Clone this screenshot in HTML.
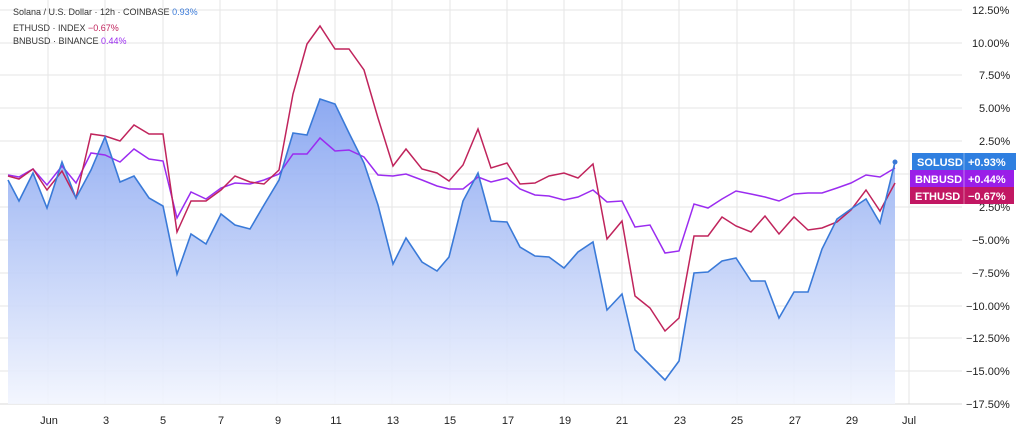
<!DOCTYPE html>
<html><head><meta charset="utf-8"><style>
body{margin:0;background:#fff;width:1024px;height:432px;overflow:hidden;font-family:"Liberation Sans",sans-serif}
</style></head><body>
<svg width="1024" height="432" xmlns="http://www.w3.org/2000/svg" font-family="Liberation Sans, sans-serif">
<defs><linearGradient id="g" gradientUnits="userSpaceOnUse" x1="0" y1="95" x2="0" y2="404">
<stop offset="0" stop-color="#7f9ff0"/><stop offset="1" stop-color="#f2f5fe"/></linearGradient></defs>
<g stroke="#e6e6e6" stroke-width="1">
<line x1="0" y1="10" x2="962" y2="10"/><line x1="0" y1="43" x2="962" y2="43"/><line x1="0" y1="75" x2="962" y2="75"/><line x1="0" y1="108" x2="962" y2="108"/><line x1="0" y1="141" x2="962" y2="141"/><line x1="0" y1="174" x2="962" y2="174"/><line x1="0" y1="207" x2="962" y2="207"/><line x1="0" y1="240" x2="962" y2="240"/><line x1="0" y1="273" x2="962" y2="273"/><line x1="0" y1="306" x2="962" y2="306"/><line x1="0" y1="338" x2="962" y2="338"/><line x1="0" y1="371" x2="962" y2="371"/>
<line x1="48" y1="0" x2="48" y2="404"/><line x1="105" y1="0" x2="105" y2="404"/><line x1="163" y1="0" x2="163" y2="404"/><line x1="220" y1="0" x2="220" y2="404"/><line x1="277" y1="0" x2="277" y2="404"/><line x1="335" y1="0" x2="335" y2="404"/><line x1="392" y1="0" x2="392" y2="404"/><line x1="450" y1="0" x2="450" y2="404"/><line x1="507" y1="0" x2="507" y2="404"/><line x1="564" y1="0" x2="564" y2="404"/><line x1="622" y1="0" x2="622" y2="404"/><line x1="679" y1="0" x2="679" y2="404"/><line x1="737" y1="0" x2="737" y2="404"/><line x1="794" y1="0" x2="794" y2="404"/><line x1="851" y1="0" x2="851" y2="404"/><line x1="909" y1="0" x2="909" y2="404"/>
</g>
<line x1="0" y1="404" x2="962" y2="404" stroke="#d8d8d8"/>
<polygon fill="url(#g)" opacity="0.9" points="8,404 8,180 19,201 33,173 47,208 62,162 76,198 91,170 105,137 120,182 134,176 149,198 163,206 177,274 191,234 206,244 221,214 235,225 250,229 264,205 279,180 293,133 307,135 320,99 335,104 349,133 364,163 378,205 393,264 406,238 422,262 437,271 449,257 463,201 478,173 491,221 507,222 520,247 535,256 549,257 564,268 578,252 593,242 607,310 622,294 635,350 650,365 665,380 679,361 694,273 708,272 722,261 736,258 751,281 765,281 779,318 794,292 808,292 822,249 837,219 851,209 866,199 880,223 895,162 895,404"/>
<polyline fill="none" stroke="#9b2cf0" stroke-width="1.5" points="8,175 19,177 33,169 47,185 62,166 76,183 91,153 105,155 120,162 134,149 149,159 163,161 177,218 191,192 206,199 221,188 235,183 250,184 264,180 279,174 293,154 307,154 320,138 335,151 349,150 364,157 378,175 393,176 406,174 422,180 437,186 449,189 463,189 478,177 491,182 507,178 520,189 535,195 549,196 564,200 578,197 593,190 607,202 622,201 635,227 650,225 665,253 679,251 694,204 708,208 722,199 736,191 751,194 765,197 779,201 794,194 808,193 822,193 837,188 851,183 866,175 880,177 895,168"/>
<polyline fill="none" stroke="#c0245c" stroke-width="1.5" points="8,176 19,179 33,169 47,190 62,171 76,198 91,134 105,136 120,141 134,125 149,134 163,134 177,232 191,201 206,201 221,190 235,176 250,182 264,184 279,170 293,94 307,44 320,26 335,49 349,49 364,70 378,118 393,166 406,149 422,169 437,173 449,181 463,165 478,129 491,168 507,163 520,184 535,183 549,176 564,173 578,178 593,164 607,239 622,221 635,296 650,308 665,331 679,318 694,236 708,236 722,217 736,226 751,232 765,216 779,234 794,217 808,230 822,228 837,222 851,210 866,190 880,211 895,183"/>
<polyline fill="none" stroke="#3a7ad8" stroke-width="1.6" points="8,180 19,201 33,173 47,208 62,162 76,198 91,170 105,137 120,182 134,176 149,198 163,206 177,274 191,234 206,244 221,214 235,225 250,229 264,205 279,180 293,133 307,135 320,99 335,104 349,133 364,163 378,205 393,264 406,238 422,262 437,271 449,257 463,201 478,173 491,221 507,222 520,247 535,256 549,257 564,268 578,252 593,242 607,310 622,294 635,350 650,365 665,380 679,361 694,273 708,272 722,261 736,258 751,281 765,281 779,318 794,292 808,292 822,249 837,219 851,209 866,199 880,223 895,162"/>
<circle cx="895" cy="162" r="2.5" fill="#3a7ad8"/>
<g font-size="11" fill="#222">
<text x="972" y="14">12.50%</text><text x="972" y="47">10.00%</text><text x="979" y="79">7.50%</text><text x="979" y="112">5.00%</text><text x="979" y="145">2.50%</text>
<text x="979" y="211">2.50%</text><text x="972" y="244">−5.00%</text><text x="972" y="277">−7.50%</text><text x="966" y="310">−10.00%</text><text x="966" y="342">−12.50%</text><text x="966" y="375">−15.00%</text><text x="966" y="408">−17.50%</text>
</g>
<g font-size="11" fill="#222" text-anchor="middle">
<text x="49" y="424">Jun</text><text x="106" y="424">3</text><text x="163" y="424">5</text><text x="221" y="424">7</text><text x="278" y="424">9</text><text x="336" y="424">11</text><text x="393" y="424">13</text><text x="450" y="424">15</text><text x="508" y="424">17</text><text x="565" y="424">19</text><text x="622" y="424">21</text><text x="680" y="424">23</text><text x="737" y="424">25</text><text x="795" y="424">27</text><text x="852" y="424">29</text><text x="909" y="424">Jul</text>
</g>
<rect x="912" y="153" width="104" height="17" fill="#2f7fe0"/>
<rect x="910" y="170" width="104" height="17" fill="#9a1ee8"/>
<rect x="910" y="187" width="104" height="17" fill="#c21763"/>
<line x1="964" y1="153" x2="964" y2="204" stroke="#fff" stroke-opacity="0.4"/>
<g font-size="11" fill="#fff" font-weight="bold">
<text x="917" y="166">SOLUSD</text><text x="968" y="166">+0.93%</text>
<text x="915" y="183">BNBUSD</text><text x="968" y="183">+0.44%</text>
<text x="915" y="200">ETHUSD</text><text x="968" y="200">−0.67%</text>
</g>
<g font-size="9" fill="#333">
<text x="13" y="15">Solana / U.S. Dollar · 12h · COINBASE <tspan fill="#3a7ad8">0.93%</tspan></text>
<text x="13" y="31">ETHUSD · INDEX <tspan fill="#c0245c">−0.67%</tspan></text>
<text x="13" y="44">BNBUSD · BINANCE <tspan fill="#9b2cf0">0.44%</tspan></text>
</g>
</svg>
</body></html>
